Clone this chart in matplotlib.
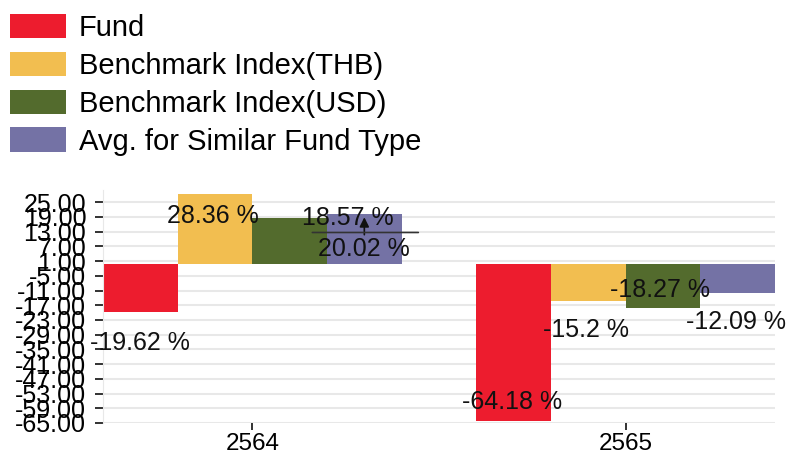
import matplotlib.pyplot as plt
import numpy as np
from matplotlib.text import OffsetFrom

plt.rcParams['font.family'] = ['Liberation Sans', 'DejaVu Sans']

# data
years = ['2564', '2565']
series = ['Fund', 'Benchmark Index(THB)', 'Benchmark Index(USD)', 'Avg. for Similar Fund Type']
fund = [-19.62, -64.18]
bench_thb = [28.36, -15.2]
bench_usd = [18.57, -18.27]
avg_type = [20.02, -12.09]
y_ticks = [25, 19, 13, 7, 1, -5, -11, -17, -23, -29, -35, -41, -47, -53, -59, -65]

colors = ['#ed1c2e', '#f2be50', '#536b2d', '#7472a5']
# label offsets in pixels from the bar end, per series / per year
label_offsets = [
    [(0, -31), (-2, 19)],
    [(-2, -22), (-2, -29)],
    [(58, 0), (-3, 18)],
    [(0, -35), (-2, -29)],
]

fig = plt.figure(figsize=(7.89, 4.54), dpi=100)
ax = fig.add_axes([103 / 789, 31 / 454, 672 / 789, 233 / 454])

x = np.arange(len(years))
width = 0.2
values = [fund, bench_thb, bench_usd, avg_type]
for i, (name, vals) in enumerate(zip(series, values)):
    bars = ax.bar(x + (i - 1.5) * width, vals, width, color=colors[i], label=name, zorder=2)
    for j, b in enumerate(bars):
        v = vals[j]
        cx = b.get_x() + b.get_width() / 2
        if i == 3 and j == 0:
            # label pushed down with a leader arrow
            ax.annotate(f'{v:g} %', xy=(cx, v), xytext=label_offsets[i][j],
                        textcoords='offset pixels', ha='center', va='center',
                        fontsize=18, color='#111111', zorder=5,
                        arrowprops=dict(arrowstyle='-|>', color='#111111', lw=1.2,
                                        shrinkA=0, shrinkB=2, mutation_scale=14))
            off = OffsetFrom(b, (0.5, 1.0), unit='pixels')
            ax.annotate('', xy=(54, -18), xycoords=off, xytext=(-52, -18), textcoords=off,
                        arrowprops=dict(arrowstyle='-', color='#333333', lw=1.2,
                                        shrinkA=0, shrinkB=0), zorder=5)
        else:
            ax.annotate(f'{v:g} %', xy=(cx, v), xytext=label_offsets[i][j],
                        textcoords='offset pixels', ha='center', va='center',
                        fontsize=18, color='#111111', zorder=5)

ax.set_xlim(-0.4, 1.4)
ax.set_ylim(-65, 30)
ax.set_xticks(x)
ax.set_xticklabels(years, fontsize=17.5)
ax.set_yticks(y_ticks)
ax.set_yticklabels([f'{t:.2f}' for t in y_ticks], fontsize=18)
ax.grid(axis='y', color='#e8e8e8', lw=1.5, zorder=0)
for s in ['top', 'right', 'bottom']:
    ax.spines[s].set_visible(False)
ax.spines['left'].set_color('#e8e8e8')
ax.tick_params(axis='y', length=6, width=1.3, pad=6, color='#222222')
ax.tick_params(axis='x', length=5, width=1.3, pad=2, color='#222222')

fig.legend(loc='upper left', bbox_to_anchor=(10 / 789, 1 - 14 / 454), frameon=False,
           fontsize=21, handlelength=1.92, handleheight=0.9, handletextpad=0.43,
           labelspacing=0.33, borderpad=0, borderaxespad=0)

fig.savefig('out.png', dpi=100)
